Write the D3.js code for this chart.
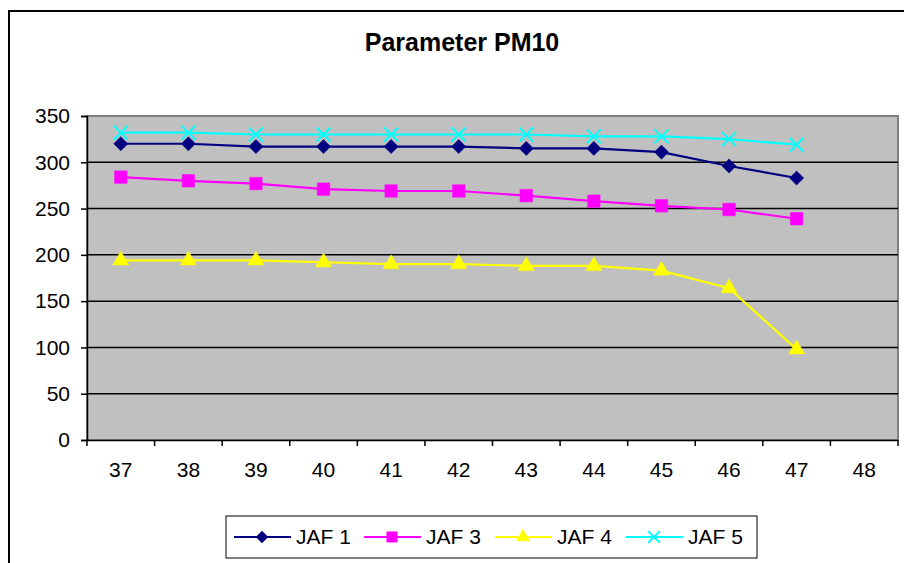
<!DOCTYPE html>
<html>
<head>
<meta charset="utf-8">
<script src="https://cdn.jsdelivr.net/npm/d3@7"></script>
<style>
  body { margin: 0; background: #fff; }
  text { font-family: Arial, "Liberation Sans", sans-serif; fill: #000; }
</style>
</head>
<body>
<div id="chart"></div>
<script>
const categories = ['37', '38', '39', '40', '41', '42', '43', '44', '45', '46', '47', '48'];
const jaf1 = [320, 320, 317, 317, 317, 317, 315, 315, 311, 296, 283];
const jaf3 = [284, 280, 277, 271, 269, 269, 264, 258, 253, 249, 239];
const jaf4 = [194, 194, 194, 192, 190, 190, 188, 188, 183, 164, 98];
const jaf5 = [332, 332, 330, 330, 330, 330, 330, 328, 328, 325, 319];
const yTicks = [0, 50, 100, 150, 200, 250, 300, 350];
const seriesNames = ['JAF 1', 'JAF 3', 'JAF 4', 'JAF 5'];

const W = 904, H = 563;
const plot = {left: 87, right: 898, top: 116, bottom: 440};

const svg = d3.select('#chart').append('svg')
  .attr('width', W)
  .attr('height', H);

// chart border (runs off the page on right and bottom)
svg.append('rect')
  .attr('x', 9).attr('y', 11)
  .attr('width', 930).attr('height', 600)
  .attr('fill', '#fff')
  .attr('stroke', '#000')
  .attr('stroke-width', 2);

svg.append('text')
  .attr('x', 462).attr('y', 51)
  .attr('text-anchor', 'middle')
  .style('font-size', '25px')
  .style('font-weight', 'bold')
  .text('Parameter PM10');

const x = d3.scaleBand().domain(categories).range([plot.left, plot.right]);
const y = d3.scaleLinear().domain([0, 350]).range([plot.bottom, plot.top]);

// plot area
svg.append('rect')
  .attr('x', plot.left).attr('y', plot.top)
  .attr('width', plot.right - plot.left).attr('height', plot.bottom - plot.top)
  .attr('fill', '#c0c0c0')
  .attr('stroke', '#808080')
  .attr('stroke-width', 2);

// gridlines
svg.append('g')
  .selectAll('line')
  .data(yTicks.filter((d) => d > 0 && d < 350))
  .join('line')
  .attr('x1', plot.left).attr('x2', plot.right)
  .attr('y1', (d) => y(d)).attr('y2', (d) => y(d))
  .attr('stroke', '#000')
  .attr('stroke-width', 1.5);

// y axis
const yAxis = svg.append('g')
  .attr('transform', `translate(${plot.left},0)`)
  .call(d3.axisLeft(y).tickValues(yTicks).tickSize(6).tickPadding(11));
yAxis.selectAll('text').style('font-size', '21px');
yAxis.selectAll('line, path').attr('stroke', '#000').attr('stroke-width', 1.5);

// x axis: labels centered, ticks on band edges
const xAxis = svg.append('g')
  .attr('transform', `translate(0,${plot.bottom})`)
  .call(d3.axisBottom(x).tickSize(0).tickPadding(22));
xAxis.selectAll('text').style('font-size', '21px');
xAxis.select('path').attr('stroke', '#000').attr('stroke-width', 1.5);
xAxis.selectAll('.edge')
  .data(categories.map((c) => x(c)).concat([plot.right]))
  .join('line')
  .attr('class', 'edge')
  .attr('x1', (d) => d).attr('x2', (d) => d)
  .attr('y1', 0).attr('y2', 6)
  .attr('stroke', '#000')
  .attr('stroke-width', 1.5);

const series = [
  {name: seriesNames[0], values: jaf1, color: '#000080', symbol: d3.symbolSquare, size: 100, rotate: 45, fill: true},
  {name: seriesNames[1], values: jaf3, color: '#ff00ff', symbol: d3.symbolSquare, size: 156, rotate: 0, fill: true},
  {name: seriesNames[2], values: jaf4, color: '#ffff00', symbol: d3.symbolTriangle, size: 112, rotate: 0, fill: true},
  {name: seriesNames[3], values: jaf5, color: '#00ffff', symbol: d3.symbolTimes, size: 130, rotate: 0, fill: false}
];

const line = d3.line()
  .x((d, i) => x(categories[i]) + x.bandwidth() / 2)
  .y((d) => y(d));

function marker(sel, s, scale) {
  sel.attr('d', d3.symbol().type(s.symbol).size(s.size * scale))
    .attr('fill', s.fill ? s.color : 'none')
    .attr('stroke', s.color)
    .attr('stroke-width', s.fill ? 0.5 : 2);
}

series.forEach((s) => {
  svg.append('path')
    .datum(s.values)
    .attr('fill', 'none')
    .attr('stroke', s.color)
    .attr('stroke-width', 2.2)
    .attr('d', line);

  svg.append('g')
    .selectAll('path')
    .data(s.values)
    .join('path')
    .attr('transform', (d, i) => `translate(${x(categories[i]) + x.bandwidth() / 2},${y(d)}) rotate(${s.rotate})`)
    .call(marker, s, 1);
});

// legend
const legend = svg.append('g');
legend.append('rect')
  .attr('x', 226).attr('y', 516)
  .attr('width', 531).attr('height', 42)
  .attr('fill', '#fff')
  .attr('stroke', '#000')
  .attr('stroke-width', 1);

const legendX = [234, 364, 495, 626];
series.forEach((s, i) => {
  const g = legend.append('g').attr('transform', `translate(${legendX[i]},537)`);
  g.append('line')
    .attr('x1', 0).attr('x2', 57)
    .attr('stroke', s.color)
    .attr('stroke-width', 2);
  g.append('path')
    .attr('transform', `translate(28,0) rotate(${s.rotate})`)
    .call(marker, s, 0.7);
  g.append('text')
    .attr('x', 62).attr('dy', '0.35em')
    .style('font-size', '21px')
    .text(s.name);
});
</script>
</body>
</html>
